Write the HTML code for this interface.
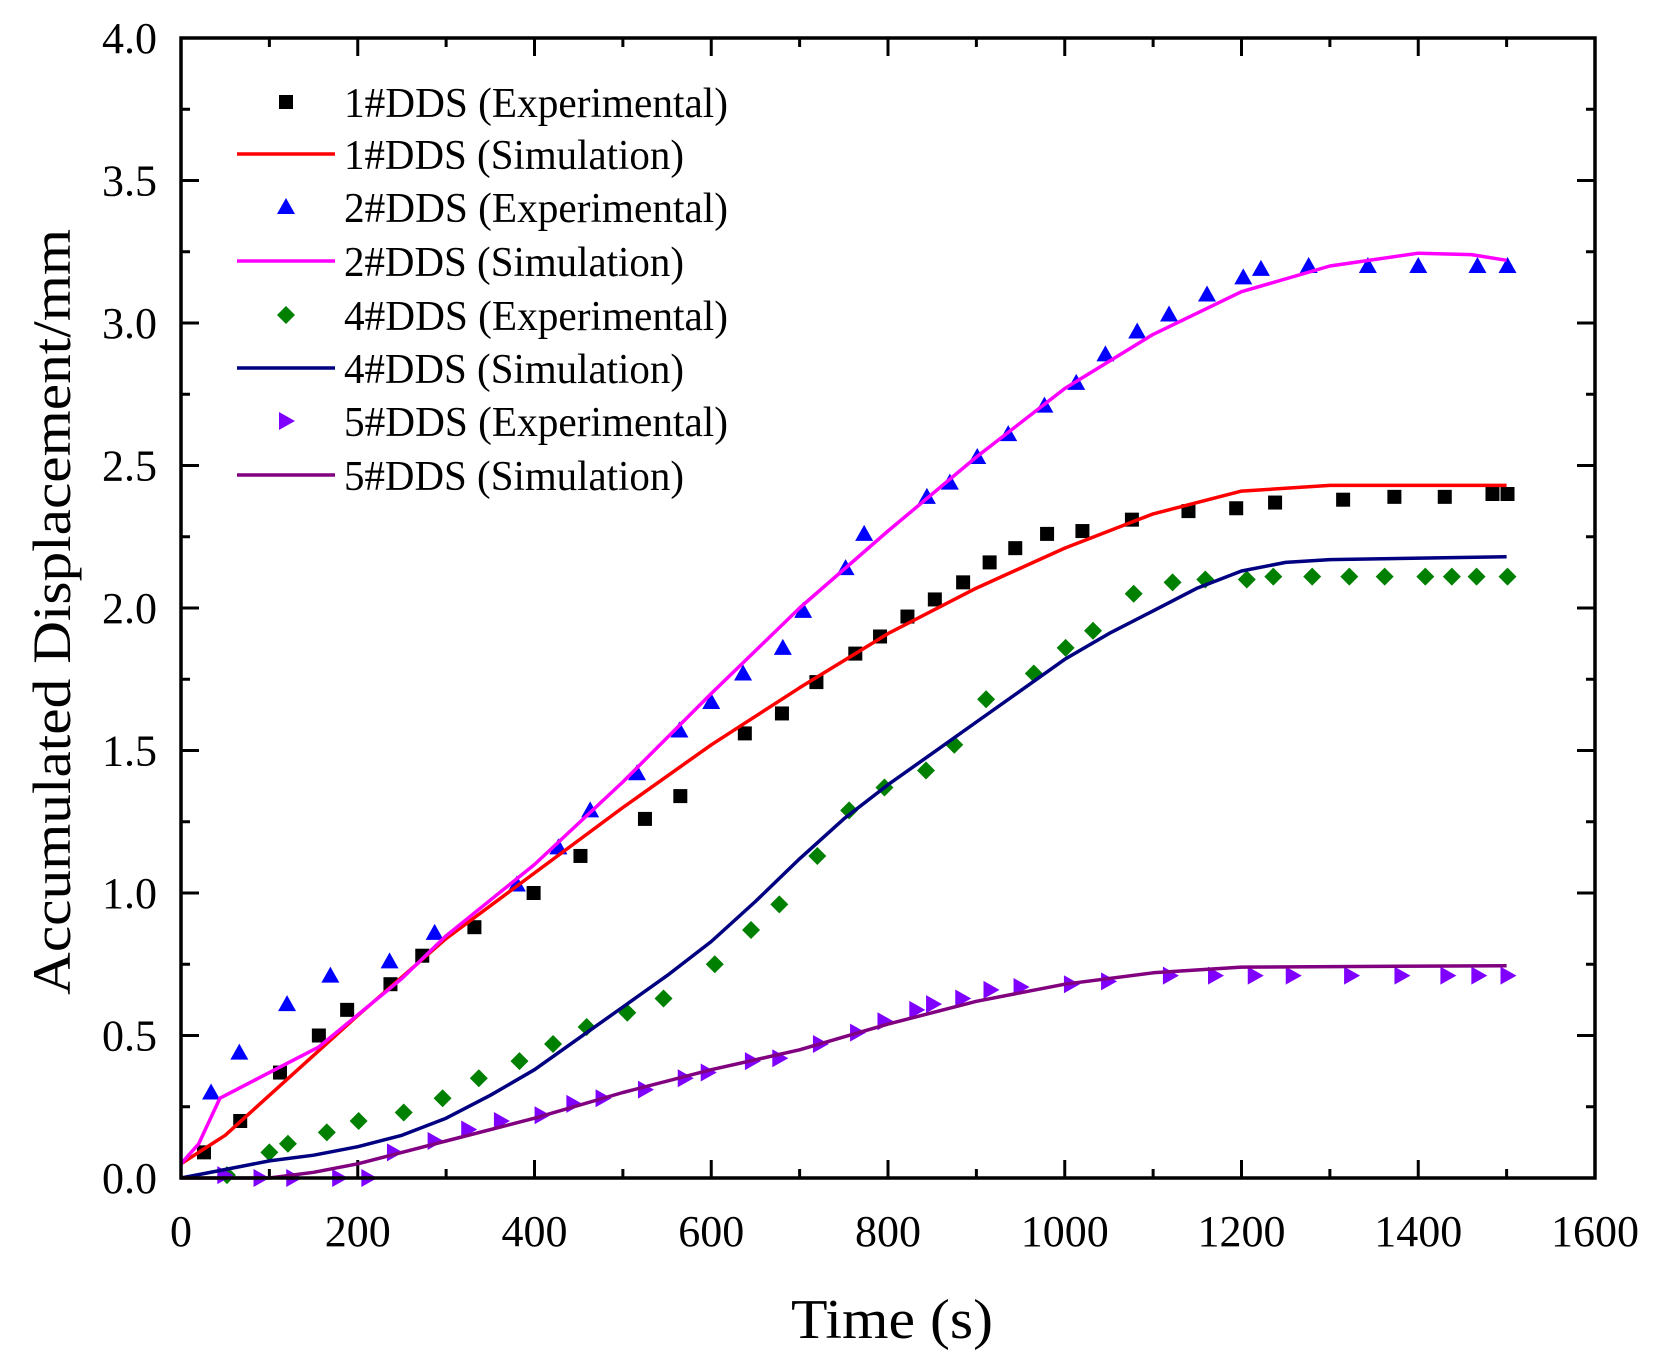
<!DOCTYPE html>
<html><head><meta charset="utf-8"><style>body{margin:0;background:#fff}svg{display:block}text{font-family:"Liberation Serif","Times New Roman",serif}</style></head>
<body>
<svg id="s" xmlns="http://www.w3.org/2000/svg" width="1661" height="1364" viewBox="0 0 1661 1364">
</svg>
<script>
const S=document.getElementById('s');
const X0=181,X1=1595,Y0=1178,Y1=38;
const fx=t=>X0+(X1-X0)*t/1600, fy=v=>Y0-(Y0-Y1)*v/4;
const F='font-family="Liberation Serif, serif"';
let h='';
for(let i=0;i<=16;i++){const x=fx(i*100);const L=i%2?9:18;
 if(i>0&&i<16){h+=`<line x1="${x}" y1="${Y0}" x2="${x}" y2="${Y0-L}" stroke="#000" stroke-width="3"/><line x1="${x}" y1="${Y1}" x2="${x}" y2="${Y1+L}" stroke="#000" stroke-width="3"/>`;}
 if(i%2==0) h+=`<text ${F} x="${x}" y="${Y0+68}" font-size="44" text-anchor="middle">${i*100}</text>`;}
for(let i=0;i<=16;i++){const y=fy(i*0.25);const L=i%2?9:18;
 if(i>0&&i<16){h+=`<line x1="${X0}" y1="${y}" x2="${X0+L}" y2="${y}" stroke="#000" stroke-width="3"/><line x1="${X1}" y1="${y}" x2="${X1-L}" y2="${y}" stroke="#000" stroke-width="3"/>`;}
 if(i%2==0) h+=`<text ${F} x="157" y="${y+15}" font-size="44" text-anchor="end">${(i*0.25).toFixed(1)}</text>`;}
h+=`<text ${F} x="892" y="1338" font-size="56" text-anchor="middle" textLength="202" lengthAdjust="spacingAndGlyphs">Time (s)</text>`;
h+=`<text ${F} transform="translate(70,612) rotate(-90)" font-size="54" text-anchor="middle" textLength="766" lengthAdjust="spacingAndGlyphs">Accumulated Displacement/mm</text>`;
const line=(pts,c)=>`<polyline fill="none" stroke="${c}" stroke-width="3.5" stroke-linejoin="round" points="${pts.map(p=>fx(p[0]).toFixed(1)+','+fy(p[1]).toFixed(1)).join(' ')}"/>`;
const sq=(x,y,c)=>`<rect x="${x-7}" y="${y-7}" width="14" height="14" fill="${c}"/>`;
const tri=(x,y,c)=>`<polygon points="${x},${y-9} ${x-9},${y+7} ${x+9},${y+7}" fill="${c}"/>`;
const dia=(x,y,c)=>`<polygon points="${x},${y-9} ${x+9},${y} ${x},${y+9} ${x-9},${y}" fill="${c}"/>`;
const rt=(x,y,c)=>`<polygon points="${x-7},${y-9} ${x+9},${y} ${x-7},${y+9}" fill="${c}"/>`;
const pts=(arr,f,c)=>arr.map(p=>f(fx(p[0]),fy(p[1]),c)).join('');
const e1=[[26,.09],[67,.2],[112,.37],[156,.5],[188,.59],[237,.68],[273,.78],[332,.88],[399,1.0],[452,1.13],[525,1.26],[565,1.34],[638,1.56],[680,1.63],[719,1.74],[763,1.84],[791,1.9],[822,1.97],[853,2.03],[885,2.09],[915,2.16],[944,2.21],[980,2.26],[1020,2.27],[1076,2.31],[1140,2.34],[1194,2.35],[1238,2.37],[1315,2.38],[1373,2.39],[1430,2.39],[1484,2.4],[1501,2.4]];
const s1=[[0,.05],[25,.1],[50,.15],[100,.29],[200,.57],[300,.84],[400,1.07],[500,1.3],[600,1.52],[700,1.72],[800,1.91],[900,2.07],[1000,2.21],[1100,2.33],[1200,2.41],[1300,2.43],[1500,2.43]];
const e2=[[34,.3],[66,.44],[120,.61],[169,.71],[236,.76],[287,.86],[380,1.03],[427,1.16],[463,1.29],[516,1.42],[564,1.57],[600,1.67],[636,1.77],[681,1.86],[704,1.99],[752,2.14],[773,2.26],[844,2.39],[870,2.44],[901,2.53],[936,2.61],[977,2.71],[1013,2.79],[1046,2.89],[1082,2.97],[1118,3.03],[1161,3.1],[1202,3.16],[1222,3.19],[1276,3.2],[1343,3.2],[1400,3.2],[1467,3.2],[1501,3.2]];
const s2=[[0,.05],[20,.12],[44,.28],[156,.46],[250,.7],[300,.85],[400,1.1],[500,1.39],[600,1.7],[700,2.0],[800,2.27],[900,2.53],[1000,2.77],[1100,2.96],[1200,3.11],[1300,3.2],[1400,3.245],[1460,3.24],[1500,3.22]];
const e4=[[52,.01],[100,.09],[121,.12],[165,.16],[201,.2],[252,.23],[296,.28],[337,.35],[383,.41],[421,.47],[459,.53],[505,.58],[546,.63],[604,.75],[645,.87],[677,.96],[720,1.13],[756,1.29],[796,1.37],[843,1.43],[875,1.52],[911,1.68],[965,1.77],[1001,1.86],[1032,1.92],[1078,2.05],[1122,2.09],[1159,2.1],[1206,2.1],[1236,2.11],[1280,2.11],[1322,2.11],[1362,2.11],[1408,2.11],[1438,2.11],[1466,2.11],[1501,2.11]];
const s4=[[0,0],[50,.03],[100,.06],[150,.08],[200,.11],[250,.15],[300,.21],[350,.29],[400,.38],[450,.49],[500,.6],[550,.71],[600,.83],[650,.97],[700,1.12],[750,1.26],[800,1.38],[850,1.49],[900,1.6],[950,1.71],[1000,1.82],[1050,1.91],[1100,1.99],[1150,2.07],[1200,2.13],[1250,2.16],[1300,2.17],[1500,2.18]];
const e5=[[49,.01],[90,0],[127,0],[179,0],[212,0],[241,.09],[287,.13],[325,.17],[362,.2],[408,.22],[444,.26],[477,.28],[525,.31],[570,.35],[596,.37],[646,.41],[677,.42],[723,.47],[765,.51],[796,.55],[832,.59],[851,.61],[884,.63],[916,.66],[950,.67],[1007,.68],[1049,.69],[1119,.71],[1170,.71],[1215,.71],[1258,.71],[1324,.71],[1381,.71],[1433,.71],[1468,.71],[1501,.71]];
const s5=[[0,0],[100,0],[150,.02],[200,.05],[300,.13],[400,.21],[500,.3],[600,.38],[700,.45],[800,.54],[900,.62],[1000,.68],[1100,.72],[1200,.74],[1500,.745]];
h+=pts(e1,sq,'#000')+pts(e2,tri,'#0000ff')+pts(e4,dia,'#008000')+pts(e5,rt,'#8000ff');
h+=line(s1,'#ff0000')+line(s2,'#ff00ff')+line(s4,'#000080')+line(s5,'#800080');
h+=`<rect x="${X0}" y="${Y1}" width="${X1-X0}" height="${Y0-Y1}" fill="none" stroke="#000" stroke-width="3.5"/>`;
const rows=[['1#DDS (Experimental)',sq,'#000'],['1#DDS (Simulation)',null,'#ff0000'],['2#DDS (Experimental)',tri,'#0000ff'],['2#DDS (Simulation)',null,'#ff00ff'],['4#DDS (Experimental)',dia,'#008000'],['4#DDS (Simulation)',null,'#000080'],['5#DDS (Experimental)',rt,'#8000ff'],['5#DDS (Simulation)',null,'#800080']];
const ry=[102,154,207,261,315,368,421,475];
rows.forEach((r,i)=>{const y=ry[i];
 if(r[1]) h+=r[1](286,y,r[2]); else h+=`<line x1="237" y1="${y}" x2="335" y2="${y}" stroke="${r[2]}" stroke-width="3.5"/>`;
 const exp=r[0].includes('Exp');
 h+=`<text ${F} x="344" y="${y+15}" font-size="42" textLength="${exp?384:340}" lengthAdjust="spacingAndGlyphs">${r[0]}</text>`;});
S.innerHTML=h;
</script>
</body></html>
